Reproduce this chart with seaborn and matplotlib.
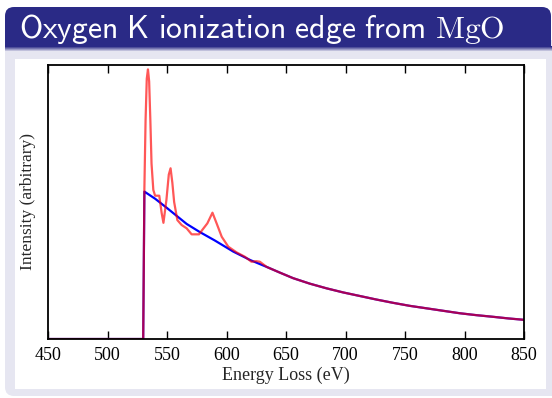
import matplotlib
matplotlib.use("Agg")
import matplotlib.pyplot as plt
from matplotlib.patches import FancyBboxPatch, Rectangle
from matplotlib.transforms import IdentityTransform
import numpy as np
import pandas as pd
import seaborn as sns

# Measured O K-edge spectrum of MgO (energy loss in eV, intensity in arbitrary units)
energy_spectrum = [450, 530, 531, 532, 533, 534, 535, 536, 537, 538.5, 540, 543.5,
                   545.5, 547, 549.5, 551.5, 553, 554.5, 556, 558.7, 562.3, 566.5,
                   570.7, 576.9, 580, 583.9, 588.2, 591.7, 596, 601.5, 608.5, 615.5,
                   621, 625, 628, 633.8, 645, 656, 670, 684, 698, 712, 726, 740,
                   754, 768, 782, 796, 810, 824, 837, 850]
intensity_spectrum = [0, 0, 55, 80, 95, 98.4, 94, 80, 64, 54.4, 52.3, 52.3,
                      46, 42.4, 50.7, 60, 62.3, 57, 50, 43.4, 41.6, 40.4,
                      38.2, 38.2, 40, 42.2, 46.1, 42.2, 37.3, 33.7, 31.6, 30,
                      28.2, 28.4, 28.2, 26.3, 24.2, 22.2, 20.2, 18.5, 17.0, 15.7, 14.4, 13.2,
                      12.1, 11.2, 10.3, 9.4, 8.7, 8.1, 7.5, 7.0]

# Smooth edge model (step at the edge onset, then decaying tail)
energy_model = [450, 530, 531, 540, 550, 566.5, 577.7, 590, 605.7, 620, 633.8,
                645, 656, 670, 684, 698, 712, 726, 740, 754, 768, 782, 796,
                810, 824, 837, 850]
intensity_model = [0, 0, 53.8, 51.2, 47.8, 42.0, 39.0, 36.0, 31.9, 28.8, 26.3,
                   24.2, 22.2, 20.2, 18.5, 17.0, 15.7, 14.4, 13.2, 12.1, 11.2, 10.3, 9.4,
                   8.7, 8.1, 7.5, 7.0]

x_ticks = [450, 500, 550, 600, 650, 700, 750, 800, 850]
title_text = r"$\mathsf{Oxygen\ K\ ionization\ edge\ from}\ \mathrm{MgO}$"
x_label = "Energy Loss (eV)"
y_label = "Intensity (arbitrary)"

sns.set_style("white")
plt.rcParams["mathtext.fontset"] = "cm"
plt.rcParams["font.family"] = ["Liberation Serif", "DejaVu Serif"]

W, H = 552, 398
fig = plt.figure(figsize=(W / 100, H / 100), dpi=100)
fig.patch.set_facecolor("white")
pix = IdentityTransform()


def rect(x0, y0, x1, y1, color, z, rounding=0):
    """Add a box given in top-left pixel coordinates to the figure."""
    if rounding:
        p = FancyBboxPatch((x0, H - y1), x1 - x0, y1 - y0,
                           boxstyle=f"round,pad=0,rounding_size={rounding}",
                           transform=pix, facecolor=color, edgecolor="none", zorder=z)
    else:
        p = Rectangle((x0, H - y1), x1 - x0, y1 - y0, transform=pix,
                      facecolor=color, edgecolor="none", zorder=z)
    fig.add_artist(p)


BAR = "#2a2a86"
BODY = "#e6e6f1"

# Slide block: light body with rounded corners and a white content area
rect(5, 40, 566, 396, BODY, 0.1, rounding=9)
rect(15, 59, 546, 389, "white", 0.2)

# Shadow gradient under the title bar
for i, s in enumerate(np.linspace(0, 1, 6)):
    c = np.array([0.16, 0.16, 0.52]) * (1 - s) + np.array([0.90, 0.90, 0.945]) * s
    rect(5, 46 + i, 552, 47 + i, c, 0.3)

# Title bar with rounded top corners
rect(5, 7, 551, 40, BAR, 0.4, rounding=9)
rect(5, 25, 551, 47, BAR, 0.4)
fig.text(19 / W, 1 - 37.5 / H, title_text, color="white", fontsize=22.8,
         ha="left", va="baseline", zorder=1)

# Plot area
ax = fig.add_axes([48 / W, 1 - 339 / H, 476 / W, 274 / H])
ax.set_zorder(2)
ax.set_facecolor("white")

df_model = pd.DataFrame({"energy": energy_model, "intensity": intensity_model})
df_spec = pd.DataFrame({"energy": energy_spectrum, "intensity": intensity_spectrum})

sns.lineplot(data=df_model, x="energy", y="intensity", color="blue", linewidth=1.6,
             estimator=None, sort=False, ax=ax)
sns.lineplot(data=df_spec, x="energy", y="intensity", color="red", alpha=0.66,
             linewidth=1.6, estimator=None, sort=False, ax=ax)

ax.set_xlim(450, 850)
ax.set_ylim(0, 100)
ax.set_xticks(x_ticks)
ax.set_xticklabels([str(t) for t in x_ticks])
ax.set_yticks([])
ax.tick_params(axis="x", direction="in", length=6, width=1, top=True, bottom=True,
               labelsize=13, pad=6, colors="black")
for sp in ax.spines.values():
    sp.set_visible(True)
    sp.set_color("black")
    sp.set_linewidth(1.3)
ax.set_xlabel(x_label, fontsize=13, labelpad=2)
ax.set_ylabel(y_label, fontsize=12.5, labelpad=9)

fig.savefig("out.png", dpi=100)
